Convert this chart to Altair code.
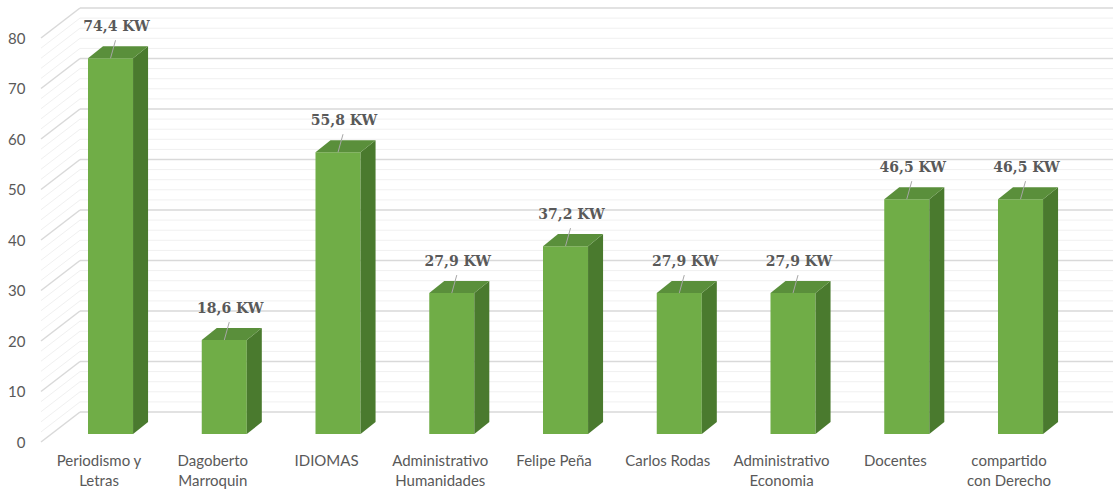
import altair as alt
import pandas as pd

# Installed power per building / office (kW)
categories = [
    "Periodismo y\nLetras",
    "Dagoberto\nMarroquin",
    "IDIOMAS",
    "Administrativo\nHumanidades",
    "Felipe Peña",
    "Carlos Rodas",
    "Administrativo\nEconomia",
    "Docentes",
    "compartido\ncon Derecho",
]
power_kw = [74.4, 18.6, 55.8, 27.9, 37.2, 27.9, 27.9, 46.5, 46.5]
major_ticks = [0, 10, 20, 30, 40, 50, 60, 70, 80]
minor_ticks = [v for v in range(0, 81, 2) if v % 10]

# 3-D column geometry (x in category steps, y in kW)
BAR_W = 0.396
DEPTH_X = 0.132
DEPTH_Y = 2.38
LABEL_SHIFT = 0.101
X_DOMAIN = [-0.422, 9.011]

FRONT = "#70AD47"
SIDE = "#4A7A2E"
TOP = "#5A8F3B"
TEXT = "#595959"

bars = pd.DataFrame({"cat": categories, "i": range(len(categories)), "kw": power_kw})
bars["x0"] = bars["i"]
bars["x1"] = bars["i"] + BAR_W
bars["xc"] = bars["i"] + BAR_W / 2
bars["xl"] = bars["i"] + BAR_W / 2 - LABEL_SHIFT
bars["zero"] = 0.0
bars["label"] = [f"{v:.1f}".replace(".", ",") + " KW" for v in power_kw]

side_rows, top_rows = [], []
for i, v in enumerate(power_kw):
    side_rows += [
        {"bar": i, "x": i + BAR_W, "hi": v, "lo": 0.0},
        {"bar": i, "x": i + BAR_W + DEPTH_X, "hi": v + DEPTH_Y, "lo": DEPTH_Y},
    ]
    top_rows += [
        {"bar": i, "x": i, "hi": v, "lo": v},
        {"bar": i, "x": i + DEPTH_X, "hi": v + DEPTH_Y, "lo": v},
        {"bar": i, "x": i + BAR_W, "hi": v + DEPTH_Y, "lo": v},
        {"bar": i, "x": i + BAR_W + DEPTH_X, "hi": v + DEPTH_Y, "lo": v + DEPTH_Y},
    ]
side = pd.DataFrame(side_rows)
top = pd.DataFrame(top_rows)
major = pd.DataFrame({"v": major_ticks})
minor = pd.DataFrame({"v": minor_ticks})

xs = alt.Scale(domain=X_DOMAIN, nice=False, zero=False)
ys = alt.Scale(domain=[0, 80], nice=False, zero=True)
yaxis = alt.Axis(
    values=major_ticks, domain=False, ticks=False, grid=False, title=None,
    labelOffset=8, labelPadding=15, labelFont="Lato", labelFontSize=15,
    labelColor=TEXT,
)

W_BACK_L, W_BACK_R, W_FRONT_L = 40, 1073, 1
BACK_DY, FRONT_DY = -22, 8


def walls(df, color, width):
    back = alt.Chart(df).mark_rule(color=color, strokeWidth=width, yOffset=BACK_DY).encode(
        x=alt.value(W_BACK_L), x2=alt.value(W_BACK_R),
        y=alt.Y("v:Q", scale=ys, axis=yaxis),
    )
    left = alt.Chart(df).mark_rule(
        color=color, strokeWidth=width, yOffset=FRONT_DY, y2Offset=BACK_DY
    ).encode(
        x=alt.value(W_FRONT_L), x2=alt.value(W_BACK_L),
        y=alt.Y("v:Q", scale=ys, axis=yaxis), y2="v:Q",
    )
    return back + left


minor_grid = walls(minor, "#F0F0F0", 1)
major_grid = walls(major, "#D9D9D9", 1.5)

front = alt.Chart(bars).mark_rect(color=FRONT).encode(
    x=alt.X("x0:Q", scale=xs, axis=None), x2="x1:Q",
    y=alt.Y("kw:Q", scale=ys, axis=yaxis), y2="zero:Q",
)

side_face = alt.Chart(side).mark_area(color=SIDE).encode(
    x=alt.X("x:Q", scale=xs, axis=None),
    y=alt.Y("hi:Q", scale=ys, axis=yaxis), y2="lo:Q",
    detail="bar:N",
)

top_face = alt.Chart(top).mark_area(color=TOP).encode(
    x=alt.X("x:Q", scale=xs, axis=None),
    y=alt.Y("hi:Q", scale=ys, axis=yaxis), y2="lo:Q",
    detail="bar:N",
)

leaders = alt.Chart(bars).mark_rule(
    color="#A6A6A6", strokeWidth=1, x2Offset=5, y2Offset=-18
).encode(
    x=alt.X("xc:Q", scale=xs, axis=None), x2="xc:Q",
    y=alt.Y("kw:Q", scale=ys, axis=yaxis), y2="kw:Q",
)

value_labels = alt.Chart(bars).mark_text(
    font="DejaVu Serif", fontSize=14, fontWeight="bold", color=TEXT,
    dx=6, dy=-31, baseline="middle", align="center",
).encode(
    x=alt.X("xc:Q", scale=xs, axis=None),
    y=alt.Y("kw:Q", scale=ys, axis=yaxis),
    text="label:N",
)

cat_labels = alt.Chart(bars).mark_text(
    font="Lato", fontSize=15, color=TEXT, baseline="top", align="center",
    lineBreak="\n", lineHeight=20,
).encode(
    x=alt.X("xl:Q", scale=xs, axis=None),
    y=alt.value(424),
    text="cat:N",
)

chart = alt.layer(
    minor_grid, major_grid, front, side_face, top_face, leaders, value_labels, cat_labels
).properties(
    width=1073, height=404,
    padding={"left": 40, "top": 30, "right": 0, "bottom": 58},
    autosize=alt.AutoSizeParams(type="none"),
    background="white",
).configure_view(stroke=None)

chart.save("out.html", embed_options={"renderer": "svg", "actions": False})
